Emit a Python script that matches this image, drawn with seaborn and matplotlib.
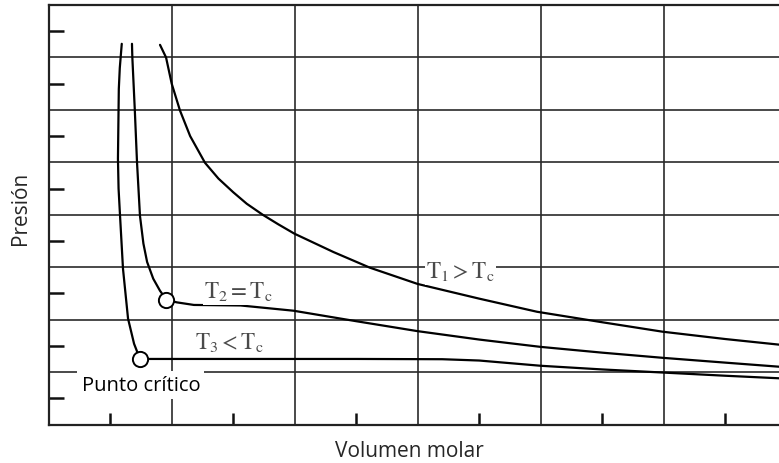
import matplotlib
matplotlib.use("Agg")
import matplotlib.pyplot as plt
import seaborn as sns
import pandas as pd
from matplotlib.ticker import MultipleLocator

# ---- data (arbitrary units) ----
t1_v = [0.905, 0.954, 1.00, 1.067, 1.15, 1.271, 1.38, 1.50, 1.61, 1.74, 1.865, 1.997, 2.314, 2.612, 3.00, 3.50, 3.97, 4.50, 4.99, 5.50, 5.95]
t1_p = [7.24, 7.00, 6.50, 5.99, 5.50, 4.99, 4.69, 4.43, 4.21, 4.00, 3.82, 3.64, 3.29, 2.99, 2.68, 2.40, 2.15, 1.95, 1.77, 1.63, 1.52]

t2_v = [0.677, 0.68, 0.70, 0.718, 0.742, 0.77, 0.80, 0.85, 0.905, 0.957, 1.04, 1.18, 1.56, 1.99, 2.50, 3.00, 3.50, 4.00, 4.50, 5.00, 5.50, 5.95]
t2_p = [7.26, 7.00, 6.00, 5.00, 3.98, 3.45, 3.10, 2.78, 2.55, 2.38, 2.33, 2.28, 2.27, 2.17, 1.97, 1.78, 1.62, 1.48, 1.37, 1.27, 1.18, 1.10]

t3_v = [0.594, 0.578, 0.57, 0.563, 0.568, 0.58, 0.604, 0.645, 0.694, 0.742, 1.50, 2.50, 3.20, 3.50, 3.75, 4.00, 4.50, 5.00, 5.50, 5.95]
t3_p = [7.26, 6.80, 6.40, 5.07, 4.50, 3.98, 2.97, 2.02, 1.54, 1.25, 1.25, 1.25, 1.245, 1.22, 1.17, 1.12, 1.05, 0.99, 0.93, 0.88]

crit_v = [0.957, 0.742]
crit_p = [2.38, 1.25]

curve_labels = [r"$\mathrm{T_1 > T_c}$", r"$\mathrm{T_2 = T_c}$", r"$\mathrm{T_3 < T_c}$"]
point_label = "Punto crítico"
x_label = "Volumen molar"
y_label = "Presión"

df = pd.concat([
    pd.DataFrame({"v": t1_v, "p": t1_p, "curva": "T1"}),
    pd.DataFrame({"v": t2_v, "p": t2_p, "curva": "T2"}),
    pd.DataFrame({"v": t3_v, "p": t3_p, "curva": "T3"}),
], ignore_index=True)

sns.set_style("white")
plt.rcParams["font.family"] = ["Open Sans", "DejaVu Sans"]
plt.rcParams["mathtext.fontset"] = "stix"

W, H = 779, 464
fig = plt.figure(figsize=(W / 100, H / 100), dpi=100)
ax = fig.add_axes([48.7 / W, (H - 425.5) / H, (W - 48.7) / W, (425.5 - 6) / H])

ax.set_xlim(0, (W - 48.7) / 123.0)
ax.set_ylim(0, 8)
ax.xaxis.set_major_locator(MultipleLocator(1))
ax.yaxis.set_major_locator(MultipleLocator(1))
ax.xaxis.set_minor_locator(MultipleLocator(0.5))
ax.yaxis.set_minor_locator(MultipleLocator(0.5))
ax.grid(True, which="major", color="#2a2a2a", linewidth=1.2, zorder=0)
ax.set_axisbelow(True)
ax.tick_params(which="major", length=0, labelbottom=False, labelleft=False,
               left=False, bottom=False)
ax.tick_params(axis="y", which="minor", direction="in", length=10.5, width=1.8,
               color="#111111", left=True, labelleft=False)
ax.tick_params(axis="x", which="minor", direction="in", length=8.5, width=1.8,
               color="#111111", bottom=True, labelbottom=False)

sns.lineplot(data=df, x="v", y="p", hue="curva", units="curva", estimator=None, sort=False,
             palette=["black", "black", "black"], linewidth=1.6, legend=False, ax=ax, zorder=3)
sns.scatterplot(x=crit_v, y=crit_p, s=120, color="white", edgecolor="black", linewidth=1.4,
                ax=ax, zorder=5)

for sp in ["left", "bottom", "top"]:
    ax.spines[sp].set_visible(True)
    ax.spines[sp].set_color("#222222")
    ax.spines[sp].set_linewidth(1.6)
ax.spines["right"].set_visible(False)

tbox = dict(facecolor="white", edgecolor="none", pad=1.0)
ax.text(3.35, 2.92, curve_labels[0], fontsize=16.5, color="#4a4a4a", ha="center", va="center", bbox=tbox, zorder=4)
ax.text(1.545, 2.54, curve_labels[1], fontsize=16.5, color="#4a4a4a", ha="center", va="center", bbox=tbox, zorder=4)
ax.text(1.47, 1.56, curve_labels[2], fontsize=16.5, color="#4a4a4a", ha="center", va="center", bbox=tbox, zorder=4)
ax.text(0.75, 0.75, point_label, fontsize=14.5, color="black", ha="center", va="center",
        bbox=dict(facecolor="white", edgecolor="none", pad=3), zorder=4)

ax.set_xlabel("")
ax.set_ylabel("")
fig.text(409 / W, 1 - 452 / H, x_label, fontsize=15, ha="center", va="center")
fig.text(20 / W, 1 - 208 / H, y_label, fontsize=15, ha="center", va="center", rotation=90)

fig.savefig("out.png", dpi=100)
